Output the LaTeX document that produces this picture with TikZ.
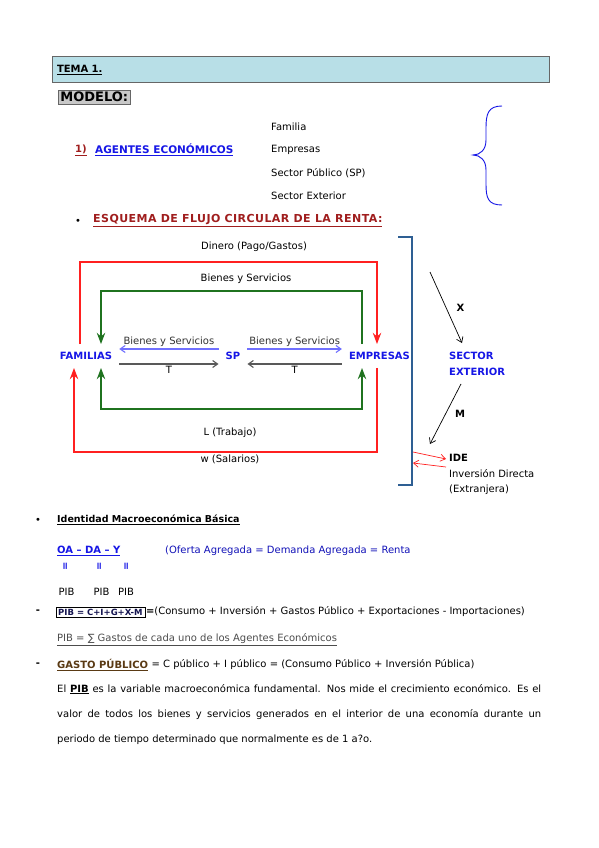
\documentclass[tikz,border=0pt]{standalone}
\usepackage{fontspec}
\setmainfont{DejaVu Sans}
\newfontfamily\symfont{DejaVu Sans}
\usetikzlibrary{arrows.meta,positioning}
\definecolor{temabg}{HTML}{B8DFE7}
\definecolor{boxgray}{HTML}{C8C8C8}
\definecolor{dkred}{HTML}{A01E1E}
\definecolor{agblue}{HTML}{1616E6}
\definecolor{flred}{HTML}{FF2020}
\definecolor{flgreen}{HTML}{1F731F}
\definecolor{lblue}{HTML}{7070FF}
\definecolor{brkblue}{HTML}{2E5F93}
\definecolor{gbrown}{HTML}{5A3A14}
\definecolor{navy}{HTML}{141450}
\begin{document}
\begin{tikzpicture}[x=1pt,y=-1pt,font=\fontsize{10}{12}\selectfont,>=Stealth,
  txt/.style={anchor=west,inner sep=0pt},
  agent/.style={font=\fontsize{10}{12}\selectfont\bfseries,text=agblue,inner xsep=7pt,inner ysep=8pt},
  redfl/.style={draw=flred,line width=1.8pt},
  grnfl/.style={draw=flgreen,line width=1.8pt},
  thin/.style={line width=1.1pt,-{Straight Barb[length=5pt,width=7pt]}},
  lbl/.style={inner sep=1.5pt}]
\fill[white] (0,0) rectangle (599,848);
\useasboundingbox (0,0) rectangle (599,848);
\node[draw=gray!80!black,fill=temabg,line width=1pt,minimum width=497pt,minimum height=26pt,text width=487pt,align=left] (tema) at (300.5,70) {\textbf{\underline{TEMA 1.}}};
\node[draw=gray!80!black,fill=boxgray,line width=.8pt,anchor=west,inner sep=2pt,font=\fontsize{13}{16}\selectfont\bfseries] (modelo) at (58,97) {MODELO:};
\node[txt,text=dkred,font=\bfseries] (num) at (75,150) {\underline{1)}};
\node[txt,right=8pt of num,text=agblue,font=\fontsize{10.5}{12}\selectfont\bfseries] (agentes) {\underline{AGENTES ECONÓMICOS}};
\foreach \t [count=\i] in {Familia,Empresas,Sector Público (SP),Sector Exterior}
  \node[txt] (ag\i) at (271,104+23*\i) {\t};
\draw[agblue,line width=.9pt] (502,106) .. controls (488,106) and (486,114) .. (486,128) -- (486,140) .. controls (486,150) and (480,155) .. (473,155) .. controls (480,155) and (486,160) .. (486,170) -- (486,184) .. controls (486,198) and (488,205) .. (502,205);
\node (bul1) at (78,222) {\textbullet};
\node[txt,text=dkred,font=\fontsize{11}{13}\selectfont\bfseries\addfontfeatures{LetterSpace=4}] (esq) at (93,221) {\underline{ESQUEMA DE FLUJO CIRCULAR DE LA RENTA:}};
\node[agent] (fam) at (86,356) {FAMILIAS};
\node[agent] (sp) at (233,356) {SP};
\node[agent] (emp) at (379.5,356) {EMPRESAS};
\node[agent,anchor=west,inner sep=0pt,align=left,font=\fontsize{10}{16}\selectfont\bfseries] (sext) at (449,364) {SECTOR\\EXTERIOR};
\node (dinero) at (254,247) {Dinero (Pago/Gastos)};
\node (bys) at (246,279) {Bienes y Servicios};
\node (trab) at (230,433) {L (Trabajo)};
\node (sal) at (230,459) {w (Salarios)};
\draw[redfl,->] ([xshift=-6pt]fam.north) -- ++(0,-82) -| ([xshift=-2.5pt]emp.north);
\draw[grnfl,->] ([xshift=-17.5pt]emp.north) -- ++(0,-53) -| ([xshift=15pt]fam.north);
\draw[grnfl,<->] ([xshift=15pt]fam.south) -- ++(0,41) -| ([xshift=-17.5pt]emp.south);
\draw[redfl,->] ([xshift=-2.5pt]emp.south) -- ++(0,84) -| ([xshift=-12pt]fam.south);
\draw[thin,lblue] ([yshift=7pt]sp.west) -- node[lbl,above,text=black!80] {Bienes y Servicios} ([yshift=7pt]fam.east);
\draw[thin,lblue] ([yshift=7pt]sp.east) -- node[lbl,above,text=black!80] {Bienes y Servicios} ([yshift=7pt]emp.west);
\draw[thin,black!65] ([yshift=-8pt]fam.east) -- node[lbl,below,text=black] {T} ([yshift=-8pt]sp.west);
\draw[thin,black!65] ([yshift=-8pt]emp.west) -- node[lbl,below,text=black] {T} ([yshift=-8pt]sp.east);
\draw[brkblue,line width=1.8pt] (398,237) -- (412,237) -- (412,485) -- (398,485);
\coordinate (xs) at (430,272);
\coordinate (me) at (430,444);
\draw[line width=.7pt,-{Straight Barb[length=5pt,width=7pt]}] (xs) -- node[right=7pt,font=\bfseries] {X} ([shift={(13pt,9pt)}]sext.north west);
\draw[line width=.7pt,-{Straight Barb[length=5pt,width=7pt]}] ([shift={(12pt,-8pt)}]sext.south west) -- node[right=6pt,font=\bfseries] {M} (me);
\node[txt,font=\bfseries,inner xsep=3pt] (ide) at (446,458) {IDE};
\node[txt,align=left,font=\fontsize{10}{15}\selectfont] (ided) at (449,482.5) {Inversión Directa\\(Extranjera)};
\coordinate (b1) at (413,452);
\coordinate (b2) at (413,463);
\draw[flred,line width=.7pt,-{Straight Barb[length=5pt,width=7pt]}] (b1) -- ([yshift=-1pt]ide.west);
\draw[flred,line width=.7pt,-{Straight Barb[length=5pt,width=7pt]}] ([yshift=-9pt]ide.west) -- (b2);
\node (bul2) at (38,521) {\textbullet};
\node[txt,font=\fontsize{9.5}{12}\selectfont\bfseries] (ident) at (57,520) {\underline{Identidad Macroeconómica Básica}};
\node[txt,text=agblue,font=\bfseries] (oa) at (57,551) {\underline{OA – DA – Y}};
\node[txt,text=agblue!80!black] (oferta) at (165,551) {(Oferta Agregada = Demanda Agregada = Renta};
\foreach \x [count=\i] in {66,100,127}
  \node[text=agblue,font=\bfseries,rotate=90,inner sep=0pt] (eq\i) at (\x,566) {=};
\foreach \x [count=\i] in {66.5,101.5,126}
  \node[inner sep=0pt] (pib\i) at (\x,592) {PIB};
\node[font=\bfseries] (dash1) at (38,612) {-};
\node[draw,anchor=west,inner sep=2pt,text=navy,font=\fontsize{8.5}{11}\selectfont\bfseries] (pibf) at (56,612) {PIB = C+I+G+X-M};
\node[right=1pt of pibf,inner sep=0pt] (cons) {\textbf{=}(Consumo + Inversión + Gastos Público + Exportaciones - Importaciones)};
\node[txt,text=black!70] (suma) at (57,640) {\underline{PIB = {\symfont ∑} Gastos de cada uno de los Agentes Económicos}};
\node[font=\bfseries] (dash2) at (38,665) {-};
\node[txt,text=gbrown,font=\bfseries] (gasto) at (57,665) {\underline{GASTO PÚBLICO}};
\node[right=3pt of gasto,inner sep=0pt] (gastoeq) {= C público + I público = (Consumo Público + Inversión Pública)};
\node[anchor=north west,inner sep=0pt,text width=484pt,align=justify,font=\fontsize{10}{25}\selectfont] (parr) at (57,684) {El \textbf{\underline{PIB}} es la variable macroeconómica fundamental. Nos mide el crecimiento económico. Es el\linebreak{} valor de todos los bienes y servicios generados en el interior de una economía durante un\linebreak{} periodo de tiempo determinado que normalmente es de 1 a?o.};
\end{tikzpicture}
\end{document}
